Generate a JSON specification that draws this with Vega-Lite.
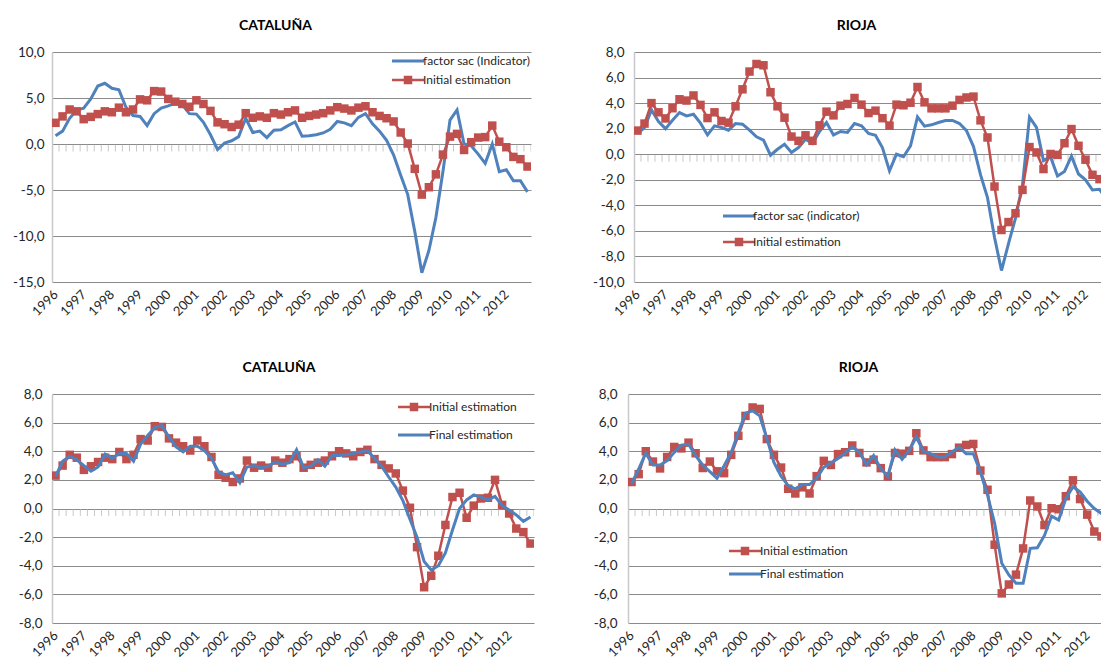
{
"$schema":"https://vega.github.io/schema/vega-lite/v6.json",
"padding":{"left":12,"top":19,"right":0,"bottom":0},
"autosize":{"type":"pad"},
"background":"white",
"config":{"view":{"stroke":null},"font":"Lato",
"axis":{"labelFont":"Lato","labelColor":"#262626","labelFontSize":13.5,"gridColor":"#8a8a8a","gridWidth":1,"ticks":false,"title":null,"labelOverlap":false},
"legend":{"labelFont":"Lato","labelFontSize":12,"labelColor":"#262626","symbolSize":400,"title":null},
"title":{"font":"Lato","fontSize":14,"fontWeight":"bold","color":"#000000"}},
"datasets":{
"cat":[{"t":1996,"sac":0.9,"ini":2.3,"fin":2.25},{"t":1996.25,"sac":1.4,"ini":3.0,"fin":3.3},{"t":1996.5,"sac":2.8,"ini":3.75,"fin":3.65},{"t":1996.75,"sac":3.7,"ini":3.55,"fin":3.4},{"t":1997,"sac":3.9,"ini":2.7,"fin":3.0},{"t":1997.25,"sac":4.9,"ini":2.95,"fin":2.6},{"t":1997.5,"sac":6.3,"ini":3.25,"fin":2.9},{"t":1997.75,"sac":6.6,"ini":3.55,"fin":3.8},{"t":1998,"sac":6.05,"ini":3.45,"fin":3.5},{"t":1998.25,"sac":5.9,"ini":3.95,"fin":3.85},{"t":1998.5,"sac":4.0,"ini":3.45,"fin":3.85},{"t":1998.75,"sac":3.1,"ini":3.75,"fin":3.3},{"t":1999,"sac":3.0,"ini":4.85,"fin":4.5},{"t":1999.25,"sac":2.0,"ini":4.75,"fin":5.1},{"t":1999.5,"sac":3.3,"ini":5.75,"fin":5.65},{"t":1999.75,"sac":3.9,"ini":5.7,"fin":5.8},{"t":2000,"sac":4.15,"ini":4.9,"fin":5.0},{"t":2000.25,"sac":4.45,"ini":4.6,"fin":4.3},{"t":2000.5,"sac":4.25,"ini":4.35,"fin":3.95},{"t":2000.75,"sac":3.3,"ini":4.05,"fin":4.35},{"t":2001,"sac":3.25,"ini":4.75,"fin":4.35},{"t":2001.25,"sac":2.35,"ini":4.35,"fin":4.05},{"t":2001.5,"sac":1.0,"ini":3.6,"fin":3.5},{"t":2001.75,"sac":-0.6,"ini":2.35,"fin":2.55},{"t":2002,"sac":0.1,"ini":2.15,"fin":2.35},{"t":2002.25,"sac":0.35,"ini":1.85,"fin":2.5},{"t":2002.5,"sac":0.8,"ini":2.1,"fin":1.8},{"t":2002.75,"sac":2.8,"ini":3.35,"fin":2.9},{"t":2003,"sac":1.25,"ini":2.85,"fin":3.0},{"t":2003.25,"sac":1.4,"ini":3.0,"fin":2.85},{"t":2003.5,"sac":0.7,"ini":2.85,"fin":2.95},{"t":2003.75,"sac":1.5,"ini":3.35,"fin":3.25},{"t":2004,"sac":1.55,"ini":3.2,"fin":3.1},{"t":2004.25,"sac":2.0,"ini":3.45,"fin":3.2},{"t":2004.5,"sac":2.4,"ini":3.65,"fin":4.1},{"t":2004.75,"sac":0.85,"ini":2.85,"fin":2.85},{"t":2005,"sac":0.9,"ini":3.05,"fin":2.95},{"t":2005.25,"sac":1.0,"ini":3.2,"fin":3.4},{"t":2005.5,"sac":1.2,"ini":3.35,"fin":2.95},{"t":2005.75,"sac":1.6,"ini":3.65,"fin":3.7},{"t":2006,"sac":2.45,"ini":4.0,"fin":3.7},{"t":2006.25,"sac":2.3,"ini":3.85,"fin":3.75},{"t":2006.5,"sac":2.0,"ini":3.65,"fin":3.85},{"t":2006.75,"sac":2.9,"ini":3.95,"fin":3.95},{"t":2007,"sac":3.3,"ini":4.1,"fin":4.05},{"t":2007.25,"sac":2.2,"ini":3.45,"fin":3.5},{"t":2007.5,"sac":1.4,"ini":3.05,"fin":2.95},{"t":2007.75,"sac":0.4,"ini":2.8,"fin":2.2},{"t":2008,"sac":-1.2,"ini":2.45,"fin":1.5},{"t":2008.25,"sac":-3.4,"ini":1.25,"fin":0.55},{"t":2008.5,"sac":-5.5,"ini":0.05,"fin":-0.75},{"t":2008.75,"sac":-9.5,"ini":-2.7,"fin":-2.0},{"t":2009,"sac":-14.0,"ini":-5.5,"fin":-3.7},{"t":2009.25,"sac":-11.6,"ini":-4.7,"fin":-4.3},{"t":2009.5,"sac":-8.0,"ini":-3.3,"fin":-4.0},{"t":2009.75,"sac":-3.0,"ini":-1.15,"fin":-3.1},{"t":2010,"sac":2.6,"ini":0.8,"fin":-1.5},{"t":2010.25,"sac":3.7,"ini":1.1,"fin":0.0},{"t":2010.5,"sac":0.0,"ini":-0.65,"fin":0.6},{"t":2010.75,"sac":-0.2,"ini":0.2,"fin":0.95},{"t":2011,"sac":-1.1,"ini":0.7,"fin":0.8},{"t":2011.25,"sac":-2.1,"ini":0.75,"fin":0.6},{"t":2011.5,"sac":0.0,"ini":2.0,"fin":0.85},{"t":2011.75,"sac":-3.0,"ini":0.25,"fin":0.2},{"t":2012,"sac":-2.8,"ini":-0.35,"fin":-0.1},{"t":2012.25,"sac":-4.0,"ini":-1.4,"fin":-0.45},{"t":2012.5,"sac":-4.0,"ini":-1.65,"fin":-0.9},{"t":2012.75,"sac":-5.2,"ini":-2.45,"fin":-0.6}],
"rio":[{"t":1996,"sac":1.62,"ini":1.85,"fin":1.72},{"t":1996.25,"sac":2.09,"ini":2.4,"fin":2.76},{"t":1996.5,"sac":3.47,"ini":4.0,"fin":3.87},{"t":1996.75,"sac":2.56,"ini":3.28,"fin":3.04},{"t":1997,"sac":2.0,"ini":2.8,"fin":3.04},{"t":1997.25,"sac":2.66,"ini":3.6,"fin":3.34},{"t":1997.5,"sac":3.26,"ini":4.3,"fin":3.92},{"t":1997.75,"sac":3.0,"ini":4.2,"fin":4.43},{"t":1998,"sac":3.13,"ini":4.6,"fin":4.5},{"t":1998.25,"sac":2.43,"ini":3.86,"fin":3.69},{"t":1998.5,"sac":1.51,"ini":2.83,"fin":3.04},{"t":1998.75,"sac":2.22,"ini":3.28,"fin":2.58},{"t":1999,"sac":2.09,"ini":2.6,"fin":2.11},{"t":1999.25,"sac":1.88,"ini":2.47,"fin":2.99},{"t":1999.5,"sac":2.4,"ini":3.75,"fin":3.92},{"t":1999.75,"sac":2.35,"ini":5.08,"fin":5.31},{"t":2000,"sac":1.88,"ini":6.47,"fin":6.66},{"t":2000.25,"sac":1.36,"ini":7.06,"fin":6.82},{"t":2000.5,"sac":1.1,"ini":6.96,"fin":6.47},{"t":2000.75,"sac":-0.08,"ini":4.85,"fin":4.9},{"t":2001,"sac":0.39,"ini":3.75,"fin":3.22},{"t":2001.25,"sac":0.78,"ini":2.86,"fin":2.25},{"t":2001.5,"sac":0.13,"ini":1.38,"fin":1.6},{"t":2001.75,"sac":0.52,"ini":1.05,"fin":1.37},{"t":2002,"sac":1.17,"ini":1.48,"fin":1.67},{"t":2002.25,"sac":0.84,"ini":1.05,"fin":1.67},{"t":2002.5,"sac":1.78,"ini":2.26,"fin":2.11},{"t":2002.75,"sac":2.48,"ini":3.33,"fin":2.88},{"t":2003,"sac":1.51,"ini":3.04,"fin":3.18},{"t":2003.25,"sac":1.78,"ini":3.8,"fin":3.5},{"t":2003.5,"sac":1.7,"ini":3.93,"fin":3.87},{"t":2003.75,"sac":2.4,"ini":4.4,"fin":4.3},{"t":2004,"sac":2.22,"ini":3.88,"fin":3.94},{"t":2004.25,"sac":1.62,"ini":3.22,"fin":3.06},{"t":2004.5,"sac":1.49,"ini":3.41,"fin":3.71},{"t":2004.75,"sac":0.5,"ini":2.82,"fin":2.78},{"t":2005,"sac":-1.3,"ini":2.24,"fin":2.27},{"t":2005.25,"sac":0.0,"ini":3.88,"fin":4.1},{"t":2005.5,"sac":-0.2,"ini":3.83,"fin":3.43},{"t":2005.75,"sac":0.65,"ini":4.03,"fin":4.06},{"t":2006,"sac":2.92,"ini":5.26,"fin":4.99},{"t":2006.25,"sac":2.2,"ini":4.06,"fin":3.99},{"t":2006.5,"sac":2.3,"ini":3.59,"fin":3.83},{"t":2006.75,"sac":2.48,"ini":3.59,"fin":3.6},{"t":2007,"sac":2.64,"ini":3.59,"fin":3.6},{"t":2007.25,"sac":2.64,"ini":3.8,"fin":3.94},{"t":2007.5,"sac":2.4,"ini":4.25,"fin":4.29},{"t":2007.75,"sac":1.85,"ini":4.44,"fin":3.83},{"t":2008,"sac":0.6,"ini":4.51,"fin":3.83},{"t":2008.25,"sac":-1.6,"ini":2.65,"fin":2.55},{"t":2008.5,"sac":-3.4,"ini":1.31,"fin":0.93},{"t":2008.75,"sac":-6.5,"ini":-2.53,"fin":-1.04},{"t":2009,"sac":-9.1,"ini":-5.93,"fin":-3.83},{"t":2009.25,"sac":-7.0,"ini":-5.31,"fin":-4.64},{"t":2009.5,"sac":-5.0,"ini":-4.62,"fin":-5.22},{"t":2009.75,"sac":-2.4,"ini":-2.79,"fin":-5.22},{"t":2010,"sac":2.9,"ini":0.56,"fin":-2.78},{"t":2010.25,"sac":2.1,"ini":0.14,"fin":-2.74},{"t":2010.5,"sac":-0.5,"ini":-1.16,"fin":-1.88},{"t":2010.75,"sac":-0.2,"ini":0.02,"fin":-0.53},{"t":2011,"sac":-1.7,"ini":-0.05,"fin":-0.81},{"t":2011.25,"sac":-1.35,"ini":0.86,"fin":0.7},{"t":2011.5,"sac":-0.15,"ini":1.97,"fin":1.51},{"t":2011.75,"sac":-1.55,"ini":0.66,"fin":1.16},{"t":2012,"sac":-2.0,"ini":-0.43,"fin":0.51},{"t":2012.25,"sac":-2.8,"ini":-1.61,"fin":0.0},{"t":2012.5,"sac":-2.75,"ini":-1.95,"fin":-0.35},{"t":2012.75,"sac":-3.5,"ini":-2.4,"fin":-0.7}]
},
"spacing":342,
"bounds":"flush",
"resolve":{"scale":{"x":"independent","y":"independent","color":"independent"},"legend":{"color":"independent"},"axis":{"x":"independent","y":"independent"}},
"vconcat":[
{"hconcat":[
{"width":479,"height":230,
"title":{"text":"CATALUÑA","anchor":"middle","frame":"group","dx":-16,"offset":12},
"data":{"name":"cat"},
"encoding":{"x":{"field":"t","type":"quantitative","scale":{"domain":[1995.875,2012.875],"nice":false,"zero":false},"axis":{"values":[1996,1997,1998,1999,2000,2001,2002,2003,2004,2005,2006,2007,2008,2009,2010,2011,2012],"tickCount":40,"format":"d","labelAngle":-45,"labelAlign":"right","labelBaseline":"middle","labelPadding":10,"labelFontSize":13,"grid":false,"domain":false,"ticks":false,"labelOverlap":false,"labelFlush":false,"labelBound":false}}},
"layer":[
{"mark":{"type":"tick","orient":"vertical","size":7,"thickness":1,"color":"#b0b0b0","xOffset":3.5,"yOffset":4,"clip":true},
"encoding":{"y":{"datum":0,"type":"quantitative","scale":{"domain":[-15,10],"nice":false,"zero":false},"axis":{"values":[-15,-10,-5,0,5,10],"tickCount":20,"labelExpr":"replace(replace(format(datum.value,'.1f'),'.',','),'\u2212','-')","grid":true,"domain":true,"domainColor":"#c8c8c8","domainWidth":1.5,"labelPadding":8,"labelOverlap":false}}}},
{"mark":{"type":"line","strokeWidth":3,"clip":true},"encoding":{"y":{"field":"sac","type":"quantitative"},"color":{"datum":"factor sac (Indicator)","scale":{"domain":["factor sac (Indicator)","Initial estimation"],"range":["#4f81bd","#c0504d"]},"legend":{"orient":"none","legendX":350,"legendY":3,"rowPadding":5,"labelOffset":9,"encode":{"symbols":{"update":{"shape":{"signal":"datum.value === 'Initial estimation' ? 'M-1.6,0H1.6M-0.3,-0.3H0.3V0.3H-0.3Z' : 'M-1.6,0H1.6'"},"fill":{"signal":"datum.value === 'Initial estimation' ? '#c0504d' : 'transparent'"},"strokeWidth":{"signal":"datum.value === 'Initial estimation' ? 2.5 : 3"}}}}}}}},
{"mark":{"type":"line","strokeWidth":2.5,"clip":true},"encoding":{"y":{"field":"ini","type":"quantitative"},"color":{"datum":"Initial estimation"}}},
{"mark":{"type":"square","size":72,"opacity":1,"color":"#c0504d","clip":true},"encoding":{"y":{"field":"ini","type":"quantitative"}}}
]},
{"width":467,"height":230,
"title":{"text":"RIOJA","anchor":"middle","frame":"group","dx":-11,"offset":12},
"data":{"name":"rio"},
"encoding":{"x":{"field":"t","type":"quantitative","scale":{"domain":[1995.875,2012.554],"nice":false,"zero":false},"axis":{"values":[1996,1997,1998,1999,2000,2001,2002,2003,2004,2005,2006,2007,2008,2009,2010,2011,2012],"tickCount":40,"format":"d","labelAngle":-45,"labelAlign":"right","labelBaseline":"middle","labelPadding":10,"labelFontSize":13,"grid":false,"domain":false,"ticks":false,"labelOverlap":false,"labelFlush":false,"labelBound":false}}},
"layer":[
{"mark":{"type":"tick","orient":"vertical","size":7,"thickness":1,"color":"#b0b0b0","xOffset":3.5,"yOffset":4,"clip":true},
"encoding":{"y":{"datum":0,"type":"quantitative","scale":{"domain":[-10,8],"nice":false,"zero":false},"axis":{"values":[-10,-8,-6,-4,-2,0,2,4,6,8],"tickCount":20,"labelExpr":"replace(replace(format(datum.value,'.1f'),'.',','),'\u2212','-')","grid":true,"domain":true,"domainColor":"#c8c8c8","domainWidth":1.5,"labelPadding":10,"labelOverlap":false}}}},
{"mark":{"type":"line","strokeWidth":3,"clip":true},"encoding":{"y":{"field":"sac","type":"quantitative"},"color":{"datum":"factor sac (indicator)","scale":{"domain":["factor sac (indicator)","Initial estimation"],"range":["#4f81bd","#c0504d"]},"legend":{"orient":"none","legendX":99,"legendY":158,"rowPadding":12,"labelOffset":8,"encode":{"symbols":{"update":{"shape":{"signal":"datum.value === 'Initial estimation' ? 'M-1.6,0H1.6M-0.3,-0.3H0.3V0.3H-0.3Z' : 'M-1.6,0H1.6'"},"fill":{"signal":"datum.value === 'Initial estimation' ? '#c0504d' : 'transparent'"},"strokeWidth":{"signal":"datum.value === 'Initial estimation' ? 2.5 : 3"}}}}}}}},
{"mark":{"type":"line","strokeWidth":2.5,"clip":true},"encoding":{"y":{"field":"ini","type":"quantitative"},"color":{"datum":"Initial estimation"}}},
{"mark":{"type":"square","size":72,"opacity":1,"color":"#c0504d","clip":true},"encoding":{"y":{"field":"ini","type":"quantitative"}}}
]}
],"spacing":103,"bounds":"flush","resolve":{"scale":{"x":"independent","y":"independent","color":"independent"},"legend":{"color":"independent"},"axis":{"x":"independent","y":"independent"}}},
{"hconcat":[
{"width":482,"height":229,
"title":{"text":"CATALUÑA","anchor":"middle","frame":"group","dx":-14,"offset":12},
"data":{"name":"cat"},
"encoding":{"x":{"field":"t","type":"quantitative","scale":{"domain":[1995.875,2012.875],"nice":false,"zero":false},"axis":{"values":[1996,1997,1998,1999,2000,2001,2002,2003,2004,2005,2006,2007,2008,2009,2010,2011,2012],"tickCount":40,"format":"d","labelAngle":-45,"labelAlign":"right","labelBaseline":"middle","labelPadding":10,"labelFontSize":13,"grid":false,"domain":false,"ticks":false,"labelOverlap":false,"labelFlush":false,"labelBound":false}}},
"layer":[
{"mark":{"type":"tick","orient":"vertical","size":7,"thickness":1,"color":"#b0b0b0","xOffset":3.5,"yOffset":4,"clip":true},
"encoding":{"y":{"datum":0,"type":"quantitative","scale":{"domain":[-8,8],"nice":false,"zero":false},"axis":{"values":[-8,-6,-4,-2,0,2,4,6,8],"tickCount":20,"labelExpr":"replace(replace(format(datum.value,'.1f'),'.',','),'\u2212','-')","grid":true,"domain":true,"domainColor":"#c8c8c8","domainWidth":1.5,"labelPadding":10,"labelOverlap":false}}}},
{"mark":{"type":"line","strokeWidth":2.5,"clip":true},"encoding":{"y":{"field":"ini","type":"quantitative"},"color":{"datum":"Initial estimation","scale":{"domain":["Initial estimation","Final estimation"],"range":["#c0504d","#4f81bd"]},"legend":{"orient":"none","legendX":356,"legendY":7,"rowPadding":14,"labelOffset":9,"encode":{"symbols":{"update":{"shape":{"signal":"datum.value === 'Initial estimation' ? 'M-1.6,0H1.6M-0.3,-0.3H0.3V0.3H-0.3Z' : 'M-1.6,0H1.6'"},"fill":{"signal":"datum.value === 'Initial estimation' ? '#c0504d' : 'transparent'"},"strokeWidth":{"signal":"datum.value === 'Initial estimation' ? 2.5 : 3"}}}}}}}},
{"mark":{"type":"square","size":72,"opacity":1,"color":"#c0504d","clip":true},"encoding":{"y":{"field":"ini","type":"quantitative"}}},
{"mark":{"type":"line","strokeWidth":3,"clip":true},"encoding":{"y":{"field":"fin","type":"quantitative"},"color":{"datum":"Final estimation"}}}
]},
{"width":473,"height":229,
"title":{"text":"RIOJA","anchor":"middle","frame":"group","dx":-6,"offset":12},
"data":{"name":"rio"},
"encoding":{"x":{"field":"t","type":"quantitative","scale":{"domain":[1995.875,2012.485],"nice":false,"zero":false},"axis":{"values":[1996,1997,1998,1999,2000,2001,2002,2003,2004,2005,2006,2007,2008,2009,2010,2011,2012],"tickCount":40,"format":"d","labelAngle":-45,"labelAlign":"right","labelBaseline":"middle","labelPadding":10,"labelFontSize":13,"grid":false,"domain":false,"ticks":false,"labelOverlap":false,"labelFlush":false,"labelBound":false}}},
"layer":[
{"mark":{"type":"tick","orient":"vertical","size":7,"thickness":1,"color":"#b0b0b0","xOffset":3.5,"yOffset":4,"clip":true},
"encoding":{"y":{"datum":0,"type":"quantitative","scale":{"domain":[-8,8],"nice":false,"zero":false},"axis":{"values":[-8,-6,-4,-2,0,2,4,6,8],"tickCount":20,"labelExpr":"replace(replace(format(datum.value,'.1f'),'.',','),'\u2212','-')","grid":true,"domain":true,"domainColor":"#c8c8c8","domainWidth":1.5,"labelPadding":11,"labelOverlap":false}}}},
{"mark":{"type":"line","strokeWidth":2.5,"clip":true},"encoding":{"y":{"field":"ini","type":"quantitative"},"color":{"datum":"Initial estimation","scale":{"domain":["Initial estimation","Final estimation"],"range":["#c0504d","#4f81bd"]},"legend":{"orient":"none","legendX":111,"legendY":151,"rowPadding":9,"labelOffset":9,"encode":{"symbols":{"update":{"shape":{"signal":"datum.value === 'Initial estimation' ? 'M-1.6,0H1.6M-0.3,-0.3H0.3V0.3H-0.3Z' : 'M-1.6,0H1.6'"},"fill":{"signal":"datum.value === 'Initial estimation' ? '#c0504d' : 'transparent'"},"strokeWidth":{"signal":"datum.value === 'Initial estimation' ? 2.5 : 3"}}}}}}}},
{"mark":{"type":"square","size":72,"opacity":1,"color":"#c0504d","clip":true},"encoding":{"y":{"field":"ini","type":"quantitative"}}},
{"mark":{"type":"line","strokeWidth":3,"clip":true},"encoding":{"y":{"field":"fin","type":"quantitative"},"color":{"datum":"Final estimation"}}}
]}
],"spacing":94,"bounds":"flush","resolve":{"scale":{"x":"independent","y":"independent","color":"independent"},"legend":{"color":"independent"},"axis":{"x":"independent","y":"independent"}}}
]
}
